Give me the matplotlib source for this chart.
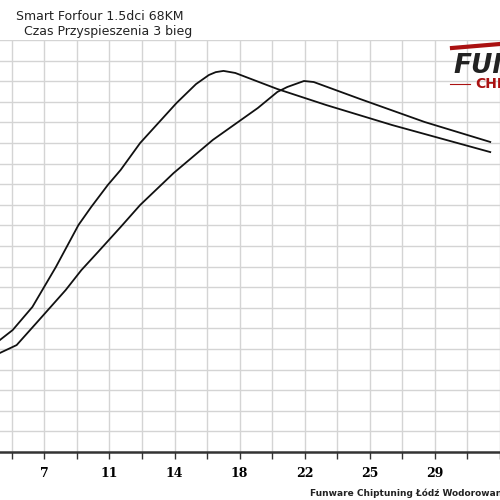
import matplotlib
matplotlib.use("Agg")
import matplotlib.pyplot as plt
import numpy as np

speed_a = [4.75, 5.45, 6.54, 7.84, 9.09, 9.79, 10.71, 11.42, 12.50, 14.51, 15.59, 16.30, 16.68, 17.11, 17.76, 20.09, 22.80, 26.44, 31.86]
val_a   = [5.44, 5.92, 7.04, 8.98, 11.02, 11.89, 12.96, 13.69, 15.0, 16.94, 17.86, 18.30, 18.44, 18.50, 18.40, 17.62, 16.84, 15.87, 14.56]
speed_b = [4.75, 5.67, 6.76, 8.38, 9.25, 10.17, 11.42, 12.50, 14.35, 16.52, 19.01, 20.09, 20.64, 21.56, 22.10, 24.65, 28.23, 31.86]
val_b   = [4.81, 5.19, 6.26, 7.86, 8.83, 9.71, 10.92, 11.99, 13.54, 15.15, 16.70, 17.48, 17.72, 18.01, 17.96, 17.14, 16.02, 15.05]
grid_x = [5.4 + 1.8 * k for k in range(16)]
tick_labels = ["7", "11", "14", "18", "22", "25", "29"]

fig = plt.figure(figsize=(5, 5), dpi=100)
ax = fig.add_axes([0, 48/500, 1, 412/500])
ax.set_xlim(4.75, 31.86)
ax.set_ylim(0, 20)
for gx in grid_x:
    ax.axvline(gx, color="#d4d4d4", lw=1, zorder=0)
for gy in range(1, 21):
    ax.axhline(gy, color="#d4d4d4", lw=1, zorder=0)
ax.plot(speed_a, val_a, color="#111111", lw=1.3)
ax.plot(speed_b, val_b, color="#111111", lw=1.3)
for s in ["left", "right", "top"]:
    ax.spines[s].set_visible(False)
ax.spines["bottom"].set_color("#333333")
ax.spines["bottom"].set_linewidth(1.8)
ax.set_yticks([])
ax.set_xticks(grid_x)
ax.set_xticklabels(["" if i % 2 == 0 else tick_labels[i // 2] if i // 2 < len(tick_labels) else "" for i in range(16)],
                   fontfamily="DejaVu Serif", fontweight="bold", fontsize=9)
ax.tick_params(axis="x", direction="out", length=5, width=1, color="#333333", pad=6)

fig.text(183/500, 1 - 17/500, "Smart Forfour 1.5dci 68KM", ha="right", va="center", fontsize=9, color="#222222")
fig.text(192/500, 1 - 31/500, "Czas Przyspieszenia 3 bieg", ha="right", va="center", fontsize=9, color="#222222")
fig.text(453/500, 1 - 66/500, "FUNWARE", ha="left", va="center", fontsize=19, fontweight="bold", style="italic", color="#222222")
fig.text(475/500, 1 - 84/500, "CHIPTUNING", ha="left", va="center", fontsize=10, fontweight="bold", color="#aa1111")
fig.add_artist(plt.Line2D([450/500, 470/500], [1 - 84/500, 1 - 84/500], color="#aa1111", lw=0.8))
fig.add_artist(plt.Line2D([452/500, 500/500], [1 - 48/500, 1 - 44/500], color="#aa1111", lw=3))
fig.text(310/500, 1 - 493/500, "Funware Chiptuning Łódź Wodorowanie Tel.", ha="left", va="center", fontsize=6.5, fontweight="bold", color="#222222")
fig.savefig("out.png", dpi=100)
